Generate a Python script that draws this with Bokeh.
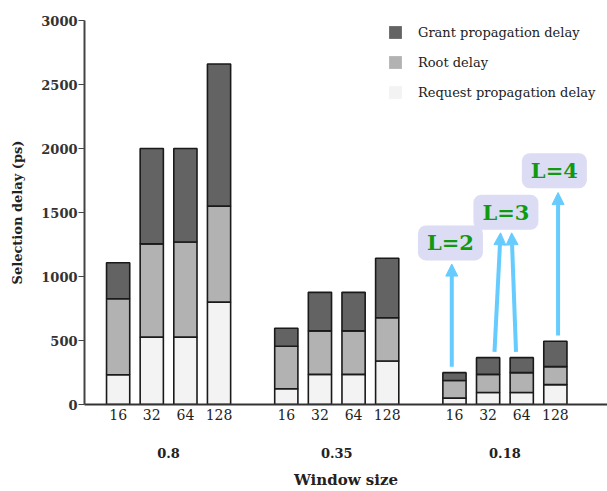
from bokeh.plotting import figure
from bokeh.models import (ColumnDataSource, Range1d, FixedTicker, LinearAxis, Legend, LegendItem,
                          Arrow, NormalHead, Label)
from bokeh.embed import file_html
from bokeh.resources import INLINE

# ---- data ----
loads = ["0.8", "0.35", "0.18"]
windows = ["16", "32", "64", "128"]
request_delay = [232, 526, 526, 800,   123, 235, 235, 340,   50, 94, 94, 155]
root_delay    = [594, 729, 744, 750,   332, 340, 340, 338,  138, 141, 155, 141]
grant_delay   = [281, 745, 730, 1110,  141, 301, 301, 465,   61, 131, 117, 198]

# annotation: L labels, bars they point at, arrow tips (ps)
ann_labels = ["L=2", "L=3", "L=4"]
ann_bars = [[8], [9, 10], [11]]
ann_tip = [1097, 1341, 1656]
ann_box_y = [1262, 1502, 1826]

FONT = "DejaVu Serif"
C_GRANT, C_ROOT, C_REQ = "#636363", "#b2b2b2", "#f3f3f3"

xs, labels_map = [], {}
for g in range(len(loads)):
    for i, w in enumerate(windows):
        xs.append(g * 5 + i)
        labels_map[g * 5 + i] = w

b1 = [r for r in request_delay]
b2 = [a + b for a, b in zip(request_delay, root_delay)]
b3 = [a + b for a, b in zip(b2, grant_delay)]
src = ColumnDataSource(dict(x=xs, b0=[0] * len(xs), b1=b1, b2=b2, b3=b3))

p = figure(width=607, height=491, output_backend="svg", toolbar_location=None,
           x_range=Range1d(-1.0, 14.55), y_range=Range1d(0, 3000),
           min_border_left=84, min_border_right=0, min_border_top=20, min_border_bottom=87,
           x_axis_location=None, y_axis_location=None)
p.outline_line_color = None
p.xgrid.visible = False
p.ygrid.visible = False
p.background_fill_color = "white"

W = 0.69
kw = dict(line_color="#1a1a1a", line_width=1.6)
p.vbar(x="x", width=W, bottom="b0", top="b1", fill_color=C_REQ, source=src, **kw)
p.vbar(x="x", width=W, bottom="b1", top="b2", fill_color=C_ROOT, source=src, **kw)
p.vbar(x="x", width=W, bottom="b2", top="b3", fill_color=C_GRANT, source=src, **kw)

# y axis
yax = LinearAxis(ticker=FixedTicker(ticks=[0, 500, 1000, 1500, 2000, 2500, 3000]))
yax.axis_label = "Selection delay (ps)"
yax.axis_label_text_font = FONT
yax.axis_label_text_font_style = "bold"
yax.axis_label_text_font_size = "13px"
yax.axis_label_text_color = "#222222"
yax.axis_label_standoff = 13
yax.major_label_text_font = FONT
yax.major_label_text_font_style = "bold"
yax.major_label_text_font_size = "13px"
yax.major_label_text_color = "#333333"
yax.major_label_standoff = 1
yax.major_tick_out = 6
yax.major_tick_in = 0
yax.minor_tick_out = 0
yax.minor_tick_in = 0
yax.axis_line_width = 2
yax.axis_line_color = "#444444"
yax.major_tick_line_color = "#444444"
p.add_layout(yax, "left")

# x axis: window sizes
xax = LinearAxis(ticker=FixedTicker(ticks=xs))
xax.major_label_overrides = labels_map
xax.major_label_text_font = FONT
xax.major_label_text_font_size = "14px"
xax.major_label_text_color = "#222222"
xax.major_label_standoff = 4
xax.major_tick_out = 0
xax.major_tick_in = 0
xax.minor_tick_out = 0
xax.minor_tick_in = 0
xax.axis_line_width = 2
xax.axis_line_color = "#333333"
p.add_layout(xax, "below")

# x axis: loads
gax = LinearAxis(ticker=FixedTicker(ticks=[g * 5 + 1.5 for g in range(len(loads))]))
gax.major_label_overrides = {g * 5 + 1.5: l for g, l in enumerate(loads)}
gax.major_label_text_font = FONT
gax.major_label_text_font_style = "bold"
gax.major_label_text_font_size = "13px"
gax.major_label_text_color = "#222222"
gax.major_label_standoff = 25
gax.major_tick_out = 0
gax.major_tick_in = 0
gax.minor_tick_out = 0
gax.minor_tick_in = 0
gax.axis_line_color = None
gax.axis_label = "Window size"
gax.axis_label_text_font = FONT
gax.axis_label_text_font_style = "bold"
gax.axis_label_text_font_size = "15px"
gax.axis_label_text_color = "#222222"
gax.axis_label_standoff = 10
p.add_layout(gax, "below")

# legend (zero-height swatch renderers, no outline)
r_g = p.vbar(x=[xs[0]], top=[0], width=W, fill_color=C_GRANT, line_color=None)
r_r = p.vbar(x=[xs[0]], top=[0], width=W, fill_color=C_ROOT, line_color=None)
r_q = p.vbar(x=[xs[0]], top=[0], width=W, fill_color=C_REQ, line_color=None)
legend = Legend(items=[LegendItem(label="Grant propagation delay", renderers=[r_g]),
                       LegendItem(label="Root delay", renderers=[r_r]),
                       LegendItem(label="Request propagation delay", renderers=[r_q])],
                location=(303, 304), glyph_width=16, glyph_height=16, spacing=14,
                label_standoff=15, padding=2, margin=0,
                label_text_font=FONT, label_text_font_size="13px", label_text_color="#222222",
                background_fill_alpha=0, border_line_color=None)
p.add_layout(legend)

# annotations
ARROW = "#66ccff"
start_off = {8: -0.08, 9: 0.19, 10: -0.17, 11: 0.08}
tip_off = {9: 0.18, 10: -0.13}
for k, lab in enumerate(ann_labels):
    bars = ann_bars[k]
    for b in bars:
        x0 = xs[b] + start_off[b]
        x1 = x0 + tip_off.get(b, 0.0)
        p.add_layout(Arrow(end=NormalHead(size=12, fill_color=ARROW, line_color=ARROW),
                           x_start=x0, y_start=b3[b] + 45, x_end=x1, y_end=ann_tip[k],
                           line_color=ARROW, line_width=4))
    cx = sum(xs[b] for b in bars) / len(bars) + (-0.12 if len(bars) == 1 and k == 0 else 0.03)
    if k == 2:
        cx = xs[bars[0]] - 0.03
    p.add_layout(Label(x=cx, y=ann_box_y[k], text=lab, text_align="center",
                       text_baseline="middle", text_font=FONT, text_font_style="bold",
                       text_font_size="21px", text_color="#109a10",
                       background_fill_color="#dcdcf4", border_radius=8, padding=(9, 5)))

open("out.html", "w").write(file_html(p, INLINE))
